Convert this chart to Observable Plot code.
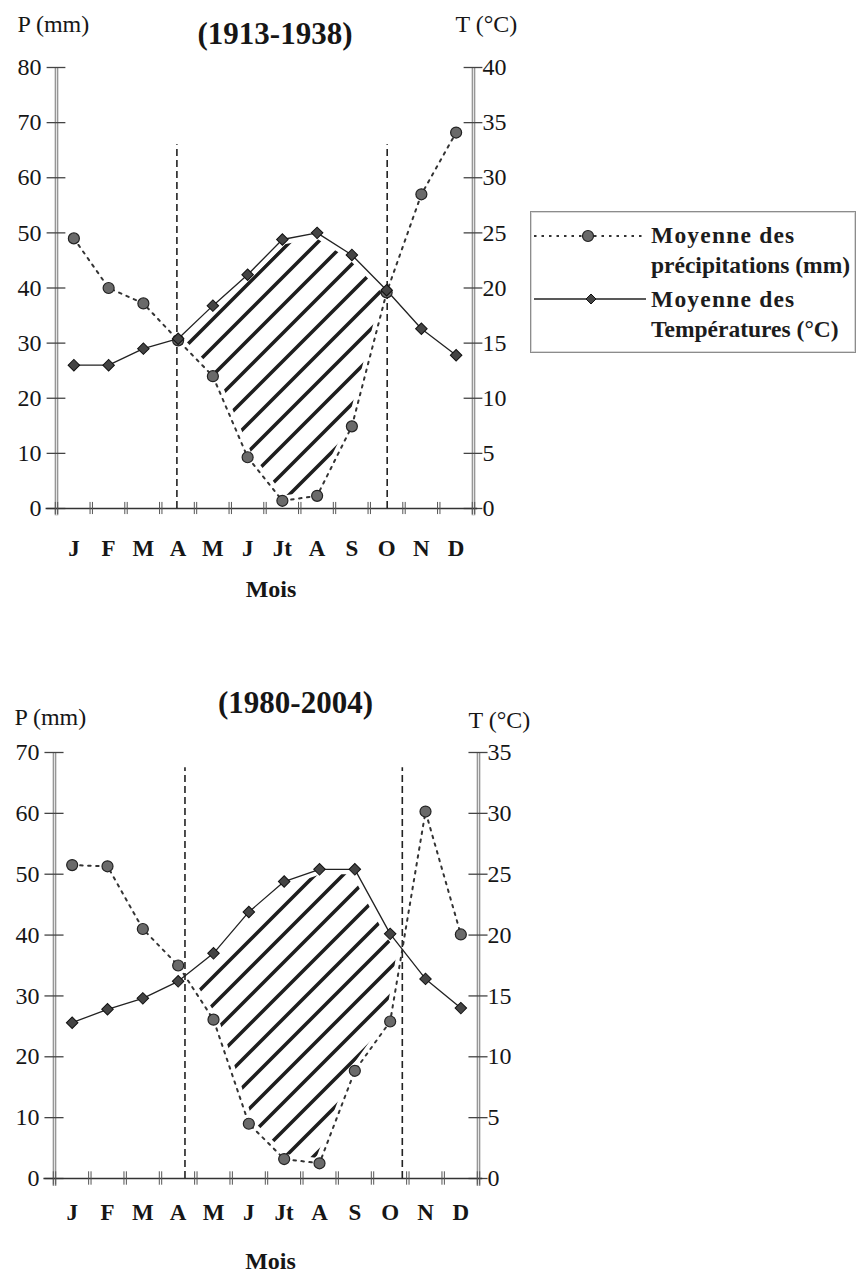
<!DOCTYPE html>
<html lang="fr">
<head>
<meta charset="utf-8">
<script src="https://cdn.jsdelivr.net/npm/d3@7"></script>
<script src="https://cdn.jsdelivr.net/npm/@observablehq/plot@0.6"></script>
<style>
  body { margin: 0; background: #fff; }
  #page { position: relative; width: 864px; height: 1276px; font-family: "Liberation Serif", "Times New Roman", serif; color: #1c1c1c; }
  #c1 { position: absolute; left: 0; top: 0; }
  #c2 { position: absolute; left: 0; top: 630px; }
  #legend { position: absolute; left: 530px; top: 211px; width: 324px; height: 140px; border: 1px solid #8c8c8c; box-shadow: inset 0 0 0 1px #d8d8d8; }
  #legend .t { position: absolute; left: 120px; font-size: 23.5px; font-weight: bold; line-height: 30px; white-space: nowrap; }
  #legend .w { letter-spacing: 1.2px; }
  #legend svg { position: absolute; left: 0; top: 0; }
  svg text { font-family: "Liberation Serif", "Times New Roman", serif; }
</style>
</head>
<body>
<div id="page">
  <div id="c1"></div>
  <div id="c2"></div>
  <div id="legend">
    <svg width="124" height="140">
      <line x1="3" y1="24" x2="112" y2="24" stroke="#333" stroke-width="2" stroke-dasharray="2.5,5"></line>
      <circle cx="57" cy="24" r="5.5" fill="#6a6a6a" stroke="#222" stroke-width="1.2"></circle>
      <line x1="3" y1="87" x2="115" y2="87" stroke="#222" stroke-width="1.3"></line>
      <path d="M60,82 L65,87 L60,92 L55,87 Z" fill="#444" stroke="#111" stroke-width="1"></path>
    </svg>
    <div class="t" style="top:8px"><span class="w">Moyenne des</span><br>précipitations (mm)</div>
    <div class="t" style="top:72px"><span class="w">Moyenne des</span><br>Températures (°C)</div>
  </div>
</div>
<script>
// Mois de l'année
const months = ["J", "F", "M", "A", "M", "J", "Jt", "A", "S", "O", "N", "D"];

// Période 1913-1938
const precip1913 = [49, 40, 37.2, 30.5, 24, 9.3, 1.4, 2.3, 14.9, 39.2, 57, 68.2];
const temp1913 = [13, 13, 14.5, 15.4, 18.4, 21.2, 24.4, 25, 23, 19.8, 16.3, 13.9];

// Période 1980-2004
const precip1980 = [51.5, 51.3, 41, 35, 26.1, 9, 3.2, 2.5, 17.7, 25.8, 60.3, 40.1];
const temp1980 = [12.8, 13.9, 14.8, 16.2, 18.5, 21.9, 24.4, 25.4, 25.4, 20.1, 16.4, 14];

// Graduations des axes
const pTicks1913 = [0, 10, 20, 30, 40, 50, 60, 70, 80];
const pTicks1980 = [0, 10, 20, 30, 40, 50, 60, 70];

const FONT = "Liberation Serif";

function ombrothermic({id, title, precip, temp, pTicks, width, height, margins, dashTop, offs}) {
  const pMax = pTicks[pTicks.length - 1];
  const rows = months.map((m, i) => ({x: i + 0.5, m, p: precip[i], t2: temp[i] * 2}));

  // Points d'intersection des courbes P et 2T (bornes de la saison sèche)
  const dense = [];
  const crossings = [];
  rows.forEach((a, i) => {
    dense.push({x: a.x, p: a.p, t2: a.t2});
    const b = rows[i + 1];
    if (!b) return;
    const da = a.t2 - a.p, db = b.t2 - b.p;
    if (da * db < 0) {
      const f = da / (da - db);
      const x = a.x + f;
      const p = a.p + f * (b.p - a.p);
      crossings.push(x);
      dense.push({x, p, t2: p});
    }
  });

  const axisGrey = "#8a8a8a";
  const txt = {fontFamily: FONT, fill: "#161616"};
  const plot = Plot.plot({
    width, height,
    marginTop: margins[0], marginRight: margins[1], marginBottom: margins[2], marginLeft: margins[3],
    style: {fontFamily: FONT, color: "#1c1c1c", background: "white", overflow: "visible"},
    x: {domain: [0, 12], axis: null},
    y: {domain: [0, pMax], axis: null},
    marks: [
      // saison sèche hachurée
      Plot.areaY(dense, {x: "x", y1: "p", y2: d => Math.max(d.p, d.t2), fill: `url(#hatch-${id})`}),
      // marges blanches autour des courbes
      Plot.line(rows, {x: "x", y: "p", stroke: "white", strokeWidth: 10}),
      Plot.line(rows, {x: "x", y: "t2", stroke: "white", strokeWidth: 10}),
      // axes verticaux à double trait
      Plot.ruleX([0, 12], {x: d => d, y1: -1.3, y2: pMax, stroke: axisGrey, strokeWidth: 3.6}),
      Plot.ruleX([0, 12], {x: d => d, y1: -1.3, y2: pMax, stroke: "#e4e4e4", strokeWidth: 1.3}),
      Plot.ruleY(pTicks, {y: d => d, x1: -0.27, x2: 0.27, stroke: "#444", strokeWidth: 1.3}),
      Plot.ruleY(pTicks, {y: d => d, x1: 11.73, x2: 12.27, stroke: "#444", strokeWidth: 1.3}),
      // axe des mois
      Plot.ruleY([0], {x1: -0.3, x2: 12.12, stroke: "#333", strokeWidth: 1.6}),
      Plot.ruleX(d3.range(13), {x: d => d, y1: -1.1, y2: 1.1, stroke: "#555", strokeWidth: 1, dx: -1.2}),
      Plot.ruleX(d3.range(13), {x: d => d, y1: -1.1, y2: 1.1, stroke: "#555", strokeWidth: 1, dx: 1.2}),
      // limites de la période sèche
      Plot.ruleX(crossings, {x: d => d, y1: 0, y2: dashTop, stroke: "#222", strokeWidth: 1.6, strokeDasharray: "7,4"}),
      // courbes
      Plot.line(rows, {x: "x", y: "p", stroke: "#333", strokeWidth: 2, strokeDasharray: "2.5,5.5"}),
      Plot.line(rows, {x: "x", y: "t2", stroke: "#222", strokeWidth: 1.3}),
      Plot.dot(rows, {x: "x", y: "p", r: 5.5, fill: "#6a6a6a", stroke: "#222", strokeWidth: 1.2}),
      Plot.dot(rows, {x: "x", y: "t2", symbol: "square", rotate: 45, r: 4.6, fill: "#444", stroke: "#111", strokeWidth: 1}),
      // graduations
      Plot.axisY({ticks: pTicks, tickSize: 0, tickPadding: 15, fontSize: 24, label: null, tickFormat: d => d, ...txt}),
      Plot.axisY({anchor: "right", ticks: pTicks, tickSize: 0, tickPadding: 9, fontSize: 24, label: null, tickFormat: d => d / 2, ...txt}),
      Plot.text(rows, {x: "x", text: "m", frameAnchor: "bottom", dy: offs.months, fontSize: 23, fontWeight: "bold", ...txt}),
      Plot.text(["Mois"], {frameAnchor: "bottom", dx: offs.moisDx, dy: offs.mois, fontSize: 24, fontWeight: "bold", ...txt}),
      // titres
      Plot.text([title], {frameAnchor: "top", dx: offs.titleDx, dy: offs.titleDy, fontSize: 31, fontWeight: "bold", ...txt}),
      Plot.text(["P (mm)"], {frameAnchor: "top-left", textAnchor: "start", dx: offs.pDx, dy: offs.pDy, fontSize: 24, ...txt}),
      Plot.text(["T (°C)"], {frameAnchor: "top-right", textAnchor: "start", dx: offs.tDx, dy: offs.tDy, fontSize: 24, ...txt})
    ]
  });

  // motif de hachures obliques
  const s = 28;
  d3.select(plot).insert("defs", ":first-child")
    .append("pattern")
      .attr("id", `hatch-${id}`)
      .attr("patternUnits", "userSpaceOnUse")
      .attr("width", s).attr("height", s)
    .append("path")
      .attr("d", `M0,${s} L${s},0 M${-s / 4},${s / 4} L${s / 4},${-s / 4} M${s * 3 / 4},${s * 5 / 4} L${s * 5 / 4},${s * 3 / 4}`)
      .attr("stroke", "#1e1e1e").attr("stroke-width", 3.6).attr("stroke-linecap", "square");
  return plot;
}

document.getElementById("c1").append(ombrothermic({
  id: "a", title: "(1913-1938)", precip: precip1913, temp: temp1913, pTicks: pTicks1913,
  width: 540, height: 630, margins: [67, 67, 122, 56], dashTop: 66,
  offs: {months: 47, mois: 88, moisDx: 6, titleDx: 10, titleDy: -46, pDx: -39, pDy: -53, tDx: -18, tDy: -53}
}));

document.getElementById("c2").append(ombrothermic({
  id: "b", title: "(1980-2004)", precip: precip1980, temp: temp1980, pTicks: pTicks1980,
  width: 540, height: 646, margins: [122, 62, 98, 54], dashTop: 67.5,
  offs: {months: 41, mois: 90, moisDx: 4, titleDx: 29, titleDy: -62, pDx: -40, pDy: -45, tDx: -10, tDy: -42}
}));
</script>
</body>
</html>
